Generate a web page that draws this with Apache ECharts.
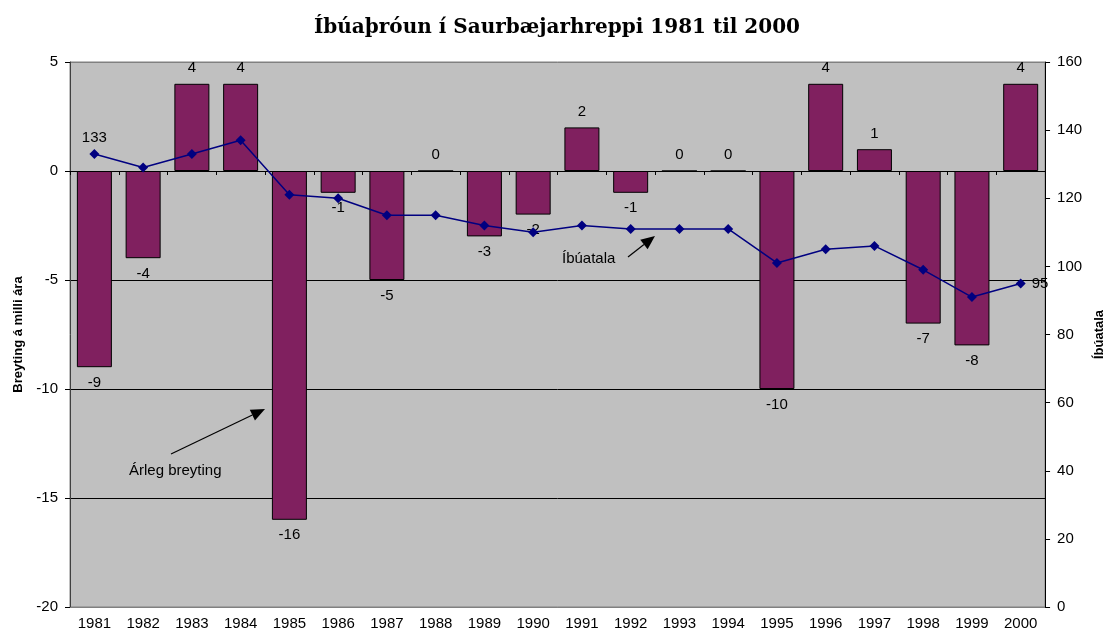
<!DOCTYPE html>
<html>
<head>
<meta charset="utf-8">
<title>Íbúaþróun í Saurbæjarhreppi 1981 til 2000</title>
<script src="https://cdn.jsdelivr.net/npm/echarts@6/dist/echarts.min.js"></script>
<style>
html, body { margin: 0; padding: 0; background: #fff; }
#chart { width: 1114px; height: 636px; }
</style>
</head>
<body>
<div id="chart"></div>
<script>
// gögn lesin af myndinni
const years = ['1981', '1982', '1983', '1984', '1985', '1986', '1987', '1988', '1989', '1990',
  '1991', '1992', '1993', '1994', '1995', '1996', '1997', '1998', '1999', '2000'];
const breyting = [-9, -4, 4, 4, -16, -1, -5, 0, -3, -2, 2, -1, 0, 0, -10, 4, 1, -7, -8, 4];
const ibuatala = [133, 129, 133, 137, 121, 120, 115, 115, 112, 110, 112, 111, 111, 111, 101, 105, 106, 99, 91, 95];

const FONT = '"Liberation Sans", Arial, sans-serif';

// ör = lína + þríhyrndur oddur
function arrow(x1, y1, x2, y2) {
  const a = Math.atan2(y2 - y1, x2 - x1);
  const len = 14, w = 6;
  const bx = x2 - len * Math.cos(a), by = y2 - len * Math.sin(a);
  return [
    { type: 'line', shape: { x1: x1, y1: y1, x2: bx, y2: by }, style: { stroke: '#000', lineWidth: 1.2 }, z: 100 },
    {
      type: 'polygon', z: 100,
      shape: {
        points: [
          [x2, y2],
          [bx + w * Math.sin(a), by - w * Math.cos(a)],
          [bx - w * Math.sin(a), by + w * Math.cos(a)]
        ]
      },
      style: { fill: '#000' }
    }
  ];
}

const myChart = echarts.init(document.getElementById('chart'));
myChart.setOption({
  animation: false,
  textStyle: { fontFamily: FONT },
  title: {
    text: 'Íbúaþróun í Saurbæjarhreppi 1981 til 2000',
    left: 'center',
    top: 13,
    textStyle: {
      fontFamily: '"DejaVu Serif", "Liberation Serif", serif',
      fontWeight: 'bold',
      fontSize: 20,
      color: '#000'
    }
  },
  grid: {
    left: 70,
    right: 66,
    top: 62,
    bottom: 29,
    show: true,
    backgroundColor: '#c0c0c0',
    borderColor: '#808080',
    borderWidth: 1
  },
  xAxis: [
    {
      type: 'category',
      data: years,
      position: 'bottom',
      axisLine: { onZero: false, lineStyle: { color: '#808080' } },
      axisTick: { show: false },
      axisLabel: { interval: 0, fontSize: 15, color: '#000', margin: 9 }
    },
    {
      type: 'category',
      data: years,
      position: 'bottom',
      axisLine: { onZero: true, onZeroAxisIndex: 0, lineStyle: { color: '#000' } },
      axisTick: { show: true, length: 4, lineStyle: { color: '#000' } },
      axisLabel: { show: false }
    }
  ],
  yAxis: [
    {
      type: 'value',
      min: -20,
      max: 5,
      interval: 5,
      position: 'left',
      name: 'Breyting á milli ára',
      nameLocation: 'middle',
      nameGap: 45,
      nameRotate: 90,
      nameTextStyle: { fontSize: 13, fontWeight: 'bold', color: '#000' },
      axisLine: { show: true, lineStyle: { color: '#404040' } },
      axisTick: { show: true, length: 5, lineStyle: { color: '#000' } },
      axisLabel: { fontSize: 15, color: '#000', margin: 12 },
      splitLine: {
        show: true,
        lineStyle: { color: ['#808080', '#000', '#000', '#000', '#000', '#808080'], width: 1 }
      }
    },
    {
      type: 'value',
      min: 0,
      max: 160,
      interval: 20,
      position: 'right',
      name: 'Íbúatala',
      nameLocation: 'middle',
      nameGap: 44,
      nameRotate: 90,
      nameTextStyle: { fontSize: 13, fontWeight: 'bold', color: '#000' },
      axisLine: { show: true, lineStyle: { color: '#000' } },
      axisTick: { show: true, length: 5, lineStyle: { color: '#000' } },
      axisLabel: { fontSize: 15, color: '#000', margin: 12 },
      splitLine: { show: false }
    }
  ],
  series: [
    {
      name: 'Árleg breyting',
      type: 'bar',
      xAxisIndex: 0,
      yAxisIndex: 0,
      barWidth: 35,
      itemStyle: { color: '#80205f', borderColor: '#000', borderWidth: 1 },
      label: { show: true, fontSize: 15, color: '#000', distance: 8 },
      data: breyting.map(v => ({ value: v, label: { position: v < 0 ? 'bottom' : 'top' } }))
    },
    {
      name: 'Íbúatala',
      type: 'line',
      xAxisIndex: 0,
      yAxisIndex: 1,
      symbol: 'diamond',
      symbolSize: 10,
      itemStyle: { color: '#000080' },
      lineStyle: { color: '#000080', width: 1.5 },
      label: { show: false, fontSize: 15, color: '#000' },
      data: ibuatala.map((v, i) => {
        if (i === 0) return { value: v, label: { show: true, position: 'top', distance: 4 } };
        if (i === ibuatala.length - 1) return { value: v, label: { show: true, position: 'right', distance: 6 } };
        return v;
      })
    }
  ],
  graphic: [
    {
      type: 'text', left: 562, top: 251, z: 100,
      style: { text: 'Íbúatala', fontSize: 15, fontFamily: FONT, fill: '#000' }
    },
    {
      type: 'text', left: 129, top: 463, z: 100,
      style: { text: 'Árleg breyting', fontSize: 15, fontFamily: FONT, fill: '#000' }
    }
  ].concat(arrow(628, 257, 655, 236), arrow(171, 454, 265, 409))
});
window.addEventListener('resize', () => {
  myChart.resize();
});
</script>
</body>
</html>
